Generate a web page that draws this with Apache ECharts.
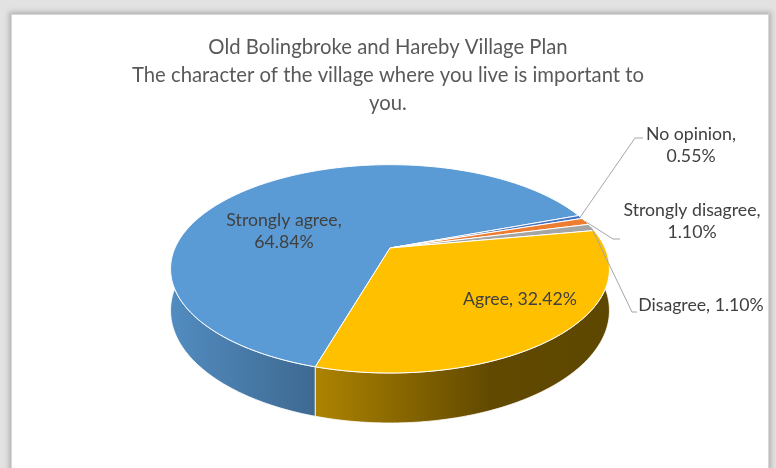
<!DOCTYPE html>
<html>
<head>
<meta charset="utf-8">
<script src="https://cdn.jsdelivr.net/npm/echarts@6.0.0/dist/echarts.min.js"></script>
<style>
  html, body { margin: 0; padding: 0; background: #e2e2e2; overflow: hidden; }
  #frame {
    position: absolute; left: 12px; top: 15px; width: 756px; height: 460px;
    background: #fff;
    box-shadow: 0 0 0 1px #d8d8d8, 0 0 5px 3px #b0b0b0;
  }
  #pie { position: absolute; left: 0; top: 0; width: 776px; height: 468px; }
</style>
</head>
<body>
<div id="frame"></div>
<div id="pie"></div>
<script>
// slices in clockwise order, as Excel draws them
var categories = ['Strongly agree', 'No opinion', 'Strongly disagree', 'Disagree', 'Agree'];
var values = [64.84, 0.55, 1.10, 1.10, 32.42];
var colors = ['#5B9BD5', '#4472C4', '#ED7D31', '#A5A5A5', '#FFC000'];

// 3d look: centre, radii, perspective and thickness
var CX = 390, CY = 248, RX = 215, RY = 100, PERSP = 0.2, DEPTH = 40;
var START = 196.3; // first slice angle, degrees clockwise from 12 o'clock

// label placement (text centre, leader elbow)
var labelLayout = [
  { x: 284, y: 231, wrap: true },
  { x: 691, y: 145, wrap: true, elbow: [635, 138, 643] },
  { x: 692, y: 221, wrap: true, elbow: [613, 239, 620] },
  { x: 701, y: 305, wrap: false, elbow: [632, 312, 637] },
  { x: 520, y: 299, wrap: false }
];

var total = values.reduce(function (a, b) { return a + b; }, 0);
var cum = [];
values.reduce(function (acc, v, i) { cum[i] = acc; return acc + v; }, 0);
var seriesData = values.map(function (v, i) { return [v, cum[i]]; });

function proj(u, v, h) {
  var k = 1 / (1 - PERSP * v);
  return [CX + RX * u * k, CY + RY * v * k + DEPTH * h * k];
}
function rim(deg, h) {
  var t = (deg - 90) * Math.PI / 180;
  return proj(Math.cos(t), Math.sin(t), h);
}
function arc(a, b, h) {
  var pts = [], n = Math.max(2, Math.ceil(Math.abs(b - a)));
  for (var i = 0; i <= n; i++) pts.push(rim(a + (b - a) * i / n, h));
  return pts;
}
function shade(hex, f) {
  var n = parseInt(hex.slice(1), 16);
  var r = Math.round(((n >> 16) & 255) * f), g = Math.round(((n >> 8) & 255) * f), b = Math.round((n & 255) * f);
  return 'rgb(' + r + ',' + g + ',' + b + ')';
}
function range(api) {
  var a = START + api.value(1) / total * 360;
  var b = a + api.value(0) / total * 360;
  return [a, b];
}

function renderWall(params, api) {
  var r = range(api), c = colors[params.dataIndex];
  var children = [];
  [-360, 0, 360].forEach(function (o) {
    var lo = Math.max(r[0], 90 + o), hi = Math.min(r[1], 270 + o);
    if (lo >= hi) return;
    var pts = arc(lo, hi, 0).concat(arc(hi, lo, 1));
    children.push({
      type: 'polygon',
      shape: { points: pts },
      style: {
        fill: new echarts.graphic.LinearGradient(170, 0, 610, 0, [
          { offset: 0, color: shade(c, 0.9) },
          { offset: 0.33, color: shade(c, 0.68) },
          { offset: 0.73, color: shade(c, 0.38) },
          { offset: 1, color: shade(c, 0.37) }
        ], true),
        stroke: '#fff', lineWidth: 0.8
      }
    });
  });
  return { type: 'group', children: children };
}

function renderTop(params, api) {
  var r = range(api);
  var pts = [proj(0, 0, 0)].concat(arc(r[0], r[1], 0));
  return {
    type: 'polygon',
    shape: { points: pts },
    style: { fill: colors[params.dataIndex], stroke: '#fff', lineWidth: 1 }
  };
}

function renderLabel(params, api) {
  var i = params.dataIndex, r = range(api), L = labelLayout[i];
  var txt = categories[i] + ',' + (L.wrap ? '\n' : ' ') + api.value(0).toFixed(2) + '%';
  var children = [{
    type: 'text',
    x: L.x, y: L.y,
    style: {
      text: txt, fill: '#404040', fontSize: 17.7, fontFamily: 'Lato',
      lineHeight: 22, align: 'center', verticalAlign: 'middle'
    }
  }];
  if (L.elbow) {
    var a = rim((r[0] + r[1]) / 2, 0);
    children.push({
      type: 'polyline',
      shape: { points: [a, [L.elbow[0], L.elbow[1]], [L.elbow[2], L.elbow[1]]] },
      style: { stroke: '#a6a6a6', lineWidth: 1, fill: null }
    });
  }
  return { type: 'group', children: children };
}

var myChart = echarts.init(document.getElementById('pie'));
myChart.setOption({
  animation: false,
  title: {
    text: 'Old Bolingbroke and Hareby Village Plan\nThe character of the village where you live is important to\nyou.',
    left: 'center',
    top: 33,
    padding: 0,
    textStyle: { color: '#595959', fontSize: 20.3, fontWeight: 'normal', fontFamily: 'Lato', lineHeight: 28 }
  },
  series: [
    { type: 'custom', coordinateSystem: 'none', silent: true, z: 1, renderItem: renderWall, data: seriesData },
    { type: 'custom', coordinateSystem: 'none', silent: true, z: 2, renderItem: renderTop, data: seriesData },
    { type: 'custom', coordinateSystem: 'none', silent: true, z: 3, renderItem: renderLabel, data: seriesData }
  ]
});
window.addEventListener('resize', function () { myChart.resize(); });
</script>
</body>
</html>
